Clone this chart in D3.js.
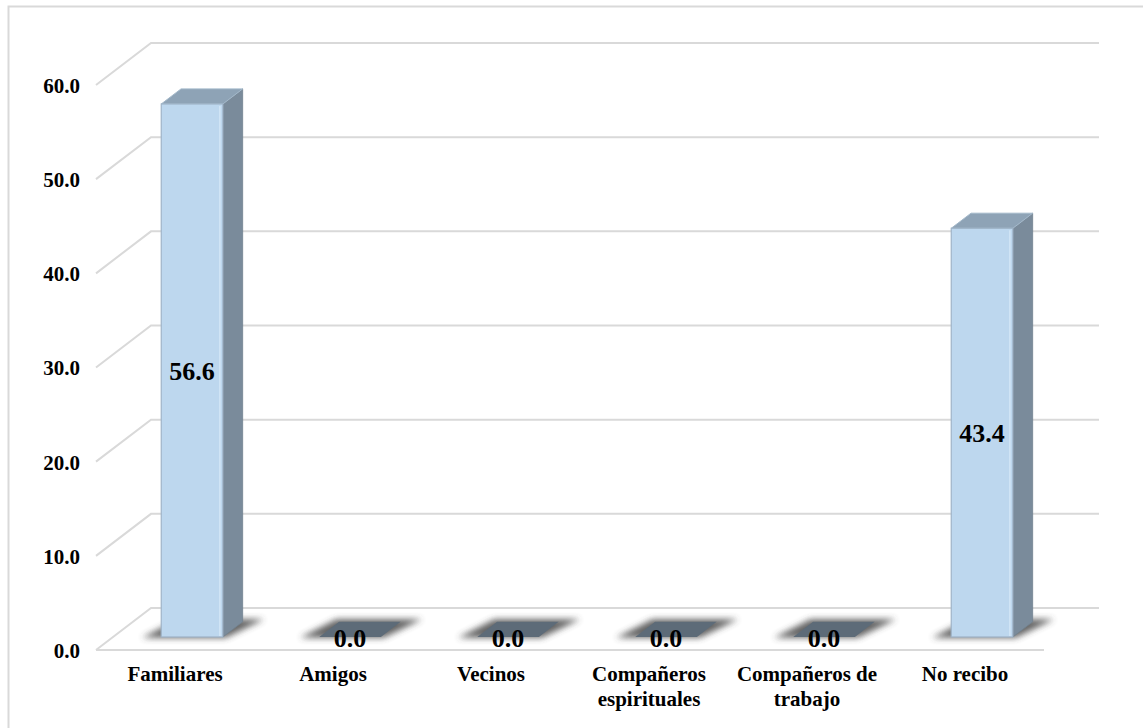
<!DOCTYPE html>
<html>
<head>
<meta charset="utf-8">
<script src="https://cdn.jsdelivr.net/npm/d3@7"></script>
<style>
  body { margin: 0; background: #fff; }
  text { font-family: "Liberation Serif", "Times New Roman", serif; font-weight: bold; fill: #000; }
</style>
</head>
<body>
<script>
// data
var categories = ["Familiares", "Amigos", "Vecinos", "Compañeros espirituales", "Compañeros de trabajo", "No recibo"];
var categoryLines = [["Familiares"], ["Amigos"], ["Vecinos"], ["Compañeros", "espirituales"], ["Compañeros de", "trabajo"], ["No recibo"]];
var values = [56.6, 0.0, 0.0, 0.0, 0.0, 43.4];
var yTicks = [0, 10, 20, 30, 40, 50, 60];

var width = 1143, height = 728;

// 3d depth vector of the plot box
var depthX = 55, depthY = -42;
var barFront = 0.31, barBack = 0.67;

var svg = d3.select("body").append("svg")
    .attr("width", width)
    .attr("height", height);

var defs = svg.append("defs");
defs.append("filter").attr("id", "shadowBlur")
    .attr("x", "-50%").attr("y", "-50%").attr("width", "200%").attr("height", "200%")
  .append("feGaussianBlur").attr("stdDeviation", 3);

// outer frame
svg.append("rect")
    .attr("x", 8.5).attr("y", 6.5)
    .attr("width", 1145).attr("height", 730)
    .attr("fill", "none")
    .attr("stroke", "#d9d9d9")
    .attr("stroke-width", 2);

var x = d3.scaleBand()
    .domain(categories)
    .range([96, 1044])
    .paddingInner(0.61)
    .paddingOuter(0.305);

var y = d3.scaleLinear()
    .domain([0, 60])
    .range([650, 85]);

function pt(px, v, d) {
  return [px + d * depthX, y(v) + d * depthY];
}

function poly(points) {
  return points.map(function (p) { return p.join(","); }).join(" ");
}

// gridlines: back wall + left diagonal
var grid = svg.append("g");
yTicks.forEach(function (t) {
  var a = pt(x.range()[0], t, 0), b = pt(x.range()[0], t, 1), c = pt(x.range()[1], t, 1);
  grid.append("polyline")
      .attr("points", poly([a, b, c]))
      .attr("fill", "none")
      .attr("stroke", "#d9d9d9")
      .attr("stroke-width", 2);
});
// floor front edge
grid.append("line")
    .attr("x1", x.range()[0]).attr("x2", x.range()[1])
    .attr("y1", y(0)).attr("y2", y(0))
    .attr("stroke", "#d9d9d9")
    .attr("stroke-width", 2);

// y axis labels
var yAxis = d3.axisLeft(y)
    .tickValues(yTicks)
    .tickSize(0)
    .tickPadding(0)
    .tickFormat(d3.format(".1f"));

svg.append("g")
    .attr("transform", "translate(80,0)")
    .call(yAxis)
    .call(function (g) { g.select(".domain").remove(); })
    .selectAll("text")
    .style("font-size", "21px")
    .style("font-family", "'Liberation Serif', 'Times New Roman', serif")
    .style("font-weight", "bold")
    .attr("fill", "#000")
    .attr("dy", "0.35em");

// x axis labels
var xAxis = d3.axisBottom(x).tickSize(0).tickPadding(0);
var xg = svg.append("g")
    .attr("transform", "translate(0,668)")
    .call(xAxis);
xg.select(".domain").remove();
xg.selectAll(".tick text").each(function (d, i) {
  var t = d3.select(this).text(null)
      .attr("y", 0).attr("dy", null)
      .style("font-size", "21px")
      .style("font-family", "'Liberation Serif', 'Times New Roman', serif")
      .style("font-weight", "bold")
      .attr("fill", "#000");
  categoryLines[i].forEach(function (line, j) {
    t.append("tspan").attr("x", 0).attr("y", 13 + j * 25).text(line);
  });
});

// bars
var bars = svg.selectAll(".bar")
    .data(categories.map(function (c, i) { return { cat: c, v: values[i] }; }))
    .enter().append("g").attr("class", "bar");

bars.each(function (d) {
  var g = d3.select(this);
  var x0 = x(d.cat), x1 = x(d.cat) + x.bandwidth();

  // floor shadow
  g.append("polygon")
      .attr("points", poly([
        pt(x0 - 18, 0, barFront - 0.02), pt(x1 + 4, 0, barFront - 0.02),
        pt(x1 + 18, 0, barBack + 0.06), pt(x0 - 6, 0, barBack + 0.06)
      ]))
      .attr("fill", "#3c3c3c")
      .attr("opacity", 0.8)
      .attr("filter", "url(#shadowBlur)");

  if (d.v > 0) {
    // side face
    g.append("polygon")
        .attr("points", poly([pt(x1, d.v, barFront), pt(x1, d.v, barBack), pt(x1, 0, barBack), pt(x1, 0, barFront)]))
        .attr("fill", "#7a8b9b")
        .attr("stroke", "#71818f")
        .attr("stroke-width", 0.8);
    // top face
    g.append("polygon")
        .attr("points", poly([pt(x0, d.v, barFront), pt(x1, d.v, barFront), pt(x1, d.v, barBack), pt(x0, d.v, barBack)]))
        .attr("fill", "#8ea3b6")
        .attr("stroke", "#a3b8ca")
        .attr("stroke-width", 1)
        .attr("stroke-linejoin", "round");
    // front face
    var f = pt(x0, d.v, barFront), b = pt(x1, 0, barFront);
    g.append("rect")
        .attr("x", f[0]).attr("y", f[1])
        .attr("width", b[0] - f[0]).attr("height", b[1] - f[1])
        .attr("fill", "#bdd7ee")
        .attr("stroke", "#9fb4c8")
        .attr("stroke-width", 1.2);
    g.append("line")
        .attr("x1", b[0] - 3).attr("x2", b[0] - 3)
        .attr("y1", f[1] + 2).attr("y2", b[1] - 1)
        .attr("stroke", "#d3e6f7")
        .attr("stroke-width", 1.5);
    g.append("text")
        .attr("x", (f[0] + b[0]) / 2)
        .attr("y", (f[1] + b[1]) / 2)
        .attr("dy", "0.35em")
        .attr("text-anchor", "middle")
        .style("font-size", "26px")
        .text(d.v.toFixed(1));
  } else {
    // flat top of a zero bar
    g.append("polygon")
        .attr("points", poly([pt(x0, 0, barFront), pt(x1, 0, barFront), pt(x1, 0, barBack), pt(x0, 0, barBack)]))
        .attr("fill", "#5d6b78");
    var c = pt((x0 + x1) / 2, 0, barFront);
    g.append("text")
        .attr("x", c[0])
        .attr("y", c[1] + 10)
        .attr("text-anchor", "middle")
        .style("font-size", "26px")
        .text(d.v.toFixed(1));
  }
});
</script>
</body>
</html>
